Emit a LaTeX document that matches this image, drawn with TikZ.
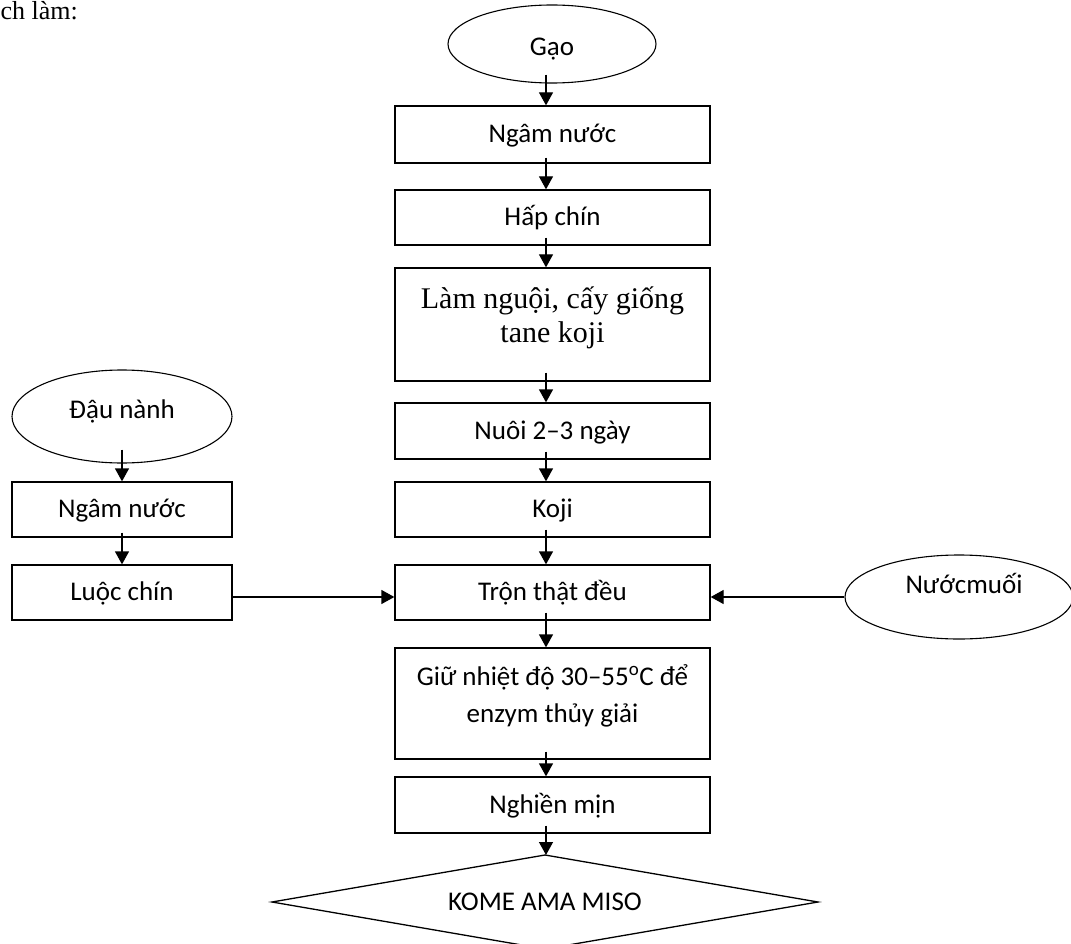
\documentclass[tikz,border=0pt]{standalone}
\usepackage{fontspec}
\setmainfont{Carlito}
\newfontfamily\timesfont{Liberation Serif}
\usetikzlibrary{arrows.meta,shapes.geometric}

\begin{document}
\begin{tikzpicture}[x=1pt,y=-1pt,
  every node/.style={inner sep=0pt, font=\fontsize{27}{32}\selectfont},
  line/.style={line width=1.3pt},
  stepbox/.style={draw, line, minimum width=315pt, text height=20pt, text depth=4pt},
  sidebox/.style={draw, line, minimum width=220pt, text height=20pt, text depth=4pt},
  oval/.style={draw, ellipse, line width=1.1pt},
  serif/.style={font=\timesfont\fontsize{30}{34}\selectfont},
  arr/.style={line, -{Triangle[length=13pt,width=14pt]}}
]
\useasboundingbox (0,0) rectangle (1071,944);

% heading fragment
\node[anchor=base east, font=\timesfont\fontsize{26}{30}\selectfont] (heading) at (78,20) {ch làm:};

% rice branch (main column)
\node[oval, minimum width=208pt, minimum height=78pt] (gao) at (552,44) {};
\node[anchor=base] (gaotext) at (552,56) {Gạo};

\node[stepbox, minimum height=57pt] (b1) at (552.5,134.5) {Ngâm nước};
\node[stepbox, minimum height=55pt] (b2) at (552.5,217.5) {Hấp chín};
\node[stepbox, minimum height=113pt] (b3) at (552.5,324.5) {};
\node[anchor=base, serif] (b3a) at (552.5,308) {Làm nguội, cấy giống};
\node[anchor=base, serif] (b3b) at (552.5,342) {tane koji};
\node[stepbox, minimum height=56pt] (b4) at (552.5,431) {Nuôi 2–3 ngày};
\node[stepbox, minimum height=55pt] (b5) at (552.5,509.5) {Koji};
\node[stepbox, minimum height=55pt] (b6) at (552.5,592.5) {Trộn thật đều};
\node[stepbox, minimum height=111pt] (b7) at (552.5,703.5) {};
\node[anchor=base] (b7a) at (552.5,685) {Giữ nhiệt độ 30–55\textsuperscript{o}C để};
\node[anchor=base] (b7b) at (552.5,722) {enzym thủy giải};
\node[stepbox, minimum height=56pt] (b8) at (552.5,805) {Nghiền mịn};

% final product diamond
\coordinate (mtop) at (545,855);
\coordinate (mright) at (818,902);
\coordinate (mbottom) at (545,949);
\coordinate (mleft) at (272,902);
\draw[line, line join=miter] (mtop) -- (mright) -- (mbottom) -- (mleft) -- cycle;
\node (miso) at (545,902) {KOME AMA MISO};

% soybean branch (left column)
\node[oval, minimum width=220pt, minimum height=93pt] (dau) at (122,416.5) {};
\node[anchor=base] (dautext) at (122,418) {Đậu nành};
\node[sidebox, minimum height=55pt] (l1) at (122,509.5) {Ngâm nước};
\node[sidebox, minimum height=55pt] (l2) at (122,592.5) {Luộc chín};

% brine (right)
\node[oval, minimum width=228pt, minimum height=84pt] (muoi) at (959,597) {};
\node[anchor=base] (muoitext) at (964,593) {Nướcmuối};

% connectors, main column
\draw[arr] ([xshift=-6pt,yshift=9pt]gao.south) -- ([xshift=-6.5pt]b1.north);
\draw[arr] ([xshift=-6.5pt,yshift=6pt]b1.south) -- ([xshift=-6.5pt]b2.north);
\draw[arr] ([xshift=-6.5pt,yshift=8pt]b2.south) -- ([xshift=-6.5pt]b3.north);
\draw[arr] ([xshift=-6.5pt,yshift=9pt]b3.south) -- ([xshift=-6.5pt]b4.north);
\draw[arr] ([xshift=-6.5pt,yshift=8pt]b4.south) -- ([xshift=-6.5pt]b5.north);
\draw[arr] ([xshift=-6.5pt,yshift=8pt]b5.south) -- ([xshift=-6.5pt]b6.north);
\draw[arr] ([xshift=-6.5pt,yshift=8pt]b6.south) -- ([xshift=-6.5pt]b7.north);
\draw[arr] ([xshift=-6.5pt,yshift=8pt]b7.south) -- ([xshift=-6.5pt]b8.north);
\draw[arr] ([xshift=-6.5pt,yshift=8pt]b8.south) -- ([xshift=-6.5pt]b8.south |- mtop);

% connectors, left column
\draw[arr] ([yshift=14pt]dau.south) -- (l1.north);
\draw[arr] ([yshift=5pt]l1.south) -- (l2.north);

% side inputs into mixing step
\draw[arr] ([yshift=-4.5pt]l2.east) -- ([yshift=-4.5pt]b6.west);
\draw[arr] (muoi.west) -- (b6.east |- muoi.west);
\end{tikzpicture}
\end{document}
